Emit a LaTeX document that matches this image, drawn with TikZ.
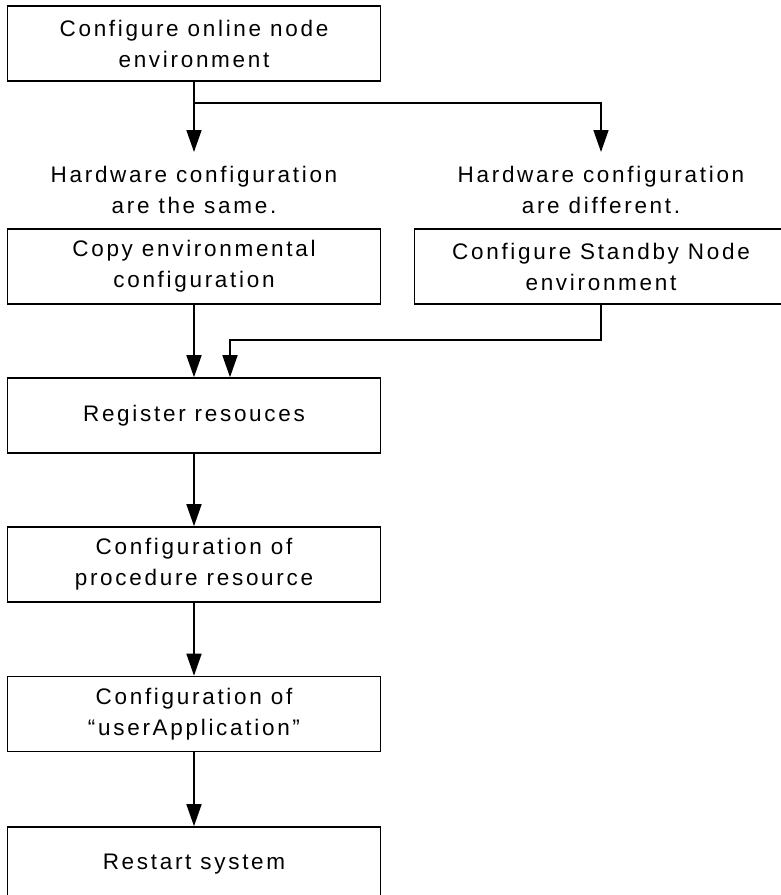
\documentclass[tikz,border=0pt]{standalone}
\usepackage{fontspec}
\setmainfont{Liberation Sans}[LetterSpace=12]
\usetikzlibrary{arrows.meta}
\tikzset{
  box/.style={draw, line width=1.6pt, minimum width=373pt, minimum height=75pt, inner sep=0pt, align=center, font=\fontsize{22.5}{31}\selectfont},
  lbl/.style={inner sep=0pt, align=center, font=\fontsize{22.5}{31}\selectfont},
  conn/.style={line width=1.6pt},
  arr/.style={conn, -{Triangle[length=22pt, width=15pt]}},
}
\begin{document}
\begin{tikzpicture}[x=1pt, y=-1pt]
\useasboundingbox (0,0) rectangle (781,895);
\clip (0,0) rectangle (781,895);
\node[box] (b1) at (194,43.5) {Configure online node\\environment};
\node[lbl] (l1) at (194,190) {Hardware configuration\\are the same.};
\node[lbl] (l2) at (601,190) {Hardware configuration\\are different.};
\node[box] (b2) at (194,266.5) {Copy environmental\\configuration};
\node[box] (b3) at (601,266.5) {Configure Standby Node\\environment};
\node[box] (b4) at (194,415.5) {Register resouces};
\node[box] (b5) at (194,564.5) {Configuration of\\procedure resource};
\node[box] (b6) at (194,714) {Configuration of\\“userApplication”};
\node[box] (b7) at (194,864.5) {Restart system};
\coordinate (t1) at (194,152);
\coordinate (split) at (194,103);
\coordinate (t2) at (601,152);
\coordinate (m) at (230,340);
\draw[arr] (b1.south) -- (t1);
\draw[arr] (split) -| (t2);
\draw[arr] (b2.south) -- (b4.north);
\draw[arr] (b3.south) |- (m) -- (b4.north -| m);
\draw[arr] (b4.south) -- (b5.north);
\draw[arr] (b5.south) -- (b6.north);
\draw[arr] (b6.south) -- (b7.north);
\end{tikzpicture}
\end{document}
